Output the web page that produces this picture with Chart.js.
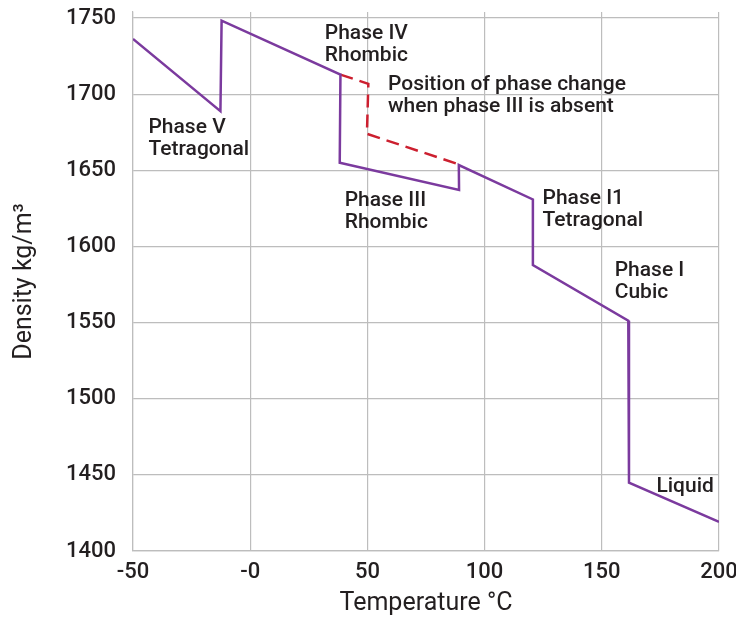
<!DOCTYPE html>
<html lang="en">
<head>
    <meta charset="UTF-8">
    <script src="https://cdn.jsdelivr.net/npm/chart.js"></script>
    <title>Density of ammonium nitrate</title>
<style>
    html, body {
        margin: 0;
        padding: 0;
        background: #ffffff;
    }
    /* le canvas occupe toute la fenêtre */
    .chart-box {
        width: 736px;
        height: 619px;
    }
</style>
</head>
<body>
<div class="chart-box">
    <canvas id="myChart"></canvas>
</div>

<script>
// courbe principale (violet)
const densityTemp = [-50, -12.7, -12.2, 38.5, 38.2, 89.1, 89.0, 120.6, 120.6, 161.3, 161.6, 200];
const densityVal  = [1736.3, 1688.9, 1748.3, 1712.9, 1655.0, 1637.1, 1653.5, 1630.9, 1587.8, 1551.3, 1444.9, 1419.1];

// changement de phase sans la phase III (rouge, pointillé)
const altTemp = [38.5, 50.4, 49.8, 89.1];
const altVal  = [1712.9, 1706.8, 1674.0, 1653.9];

// étiquettes du graphique
const labelLines = [
    ['Phase V', 'Tetragonal'],
    ['Phase IV', 'Rhombic'],
    ['Position of phase change', 'when phase III is absent'],
    ['Phase III', 'Rhombic'],
    ['Phase I1', 'Tetragonal'],
    ['Phase I', 'Cubic'],
    ['Liquid']
];
const labelTemp = [-43.4, 31.8, 58.8, 40.3, 124.7, 155.5, 173.3];
const labelDensity = [1674.7, 1736.3, 1702.6, 1626.6, 1628.2, 1580.7, 1438.8];

const xTicks = [-50, 0, 50, 100, 150, 200];
const yTicks = [1400, 1450, 1500, 1550, 1600, 1650, 1700, 1750];

const fontName = 'Roboto, "DejaVu Sans", sans-serif';
const textColor = '#231f20';
const gridColor = '#bdbdbd';

function toPoints(xs, ys) {
    return xs.map((x, i) => ({ x: x, y: ys[i] }));
}

// plugin maison pour écrire les étiquettes dans le graphique
const phaseLabels = {
    id: 'phaseLabels',
    afterDatasetsDraw(chart) {
        const ctx = chart.ctx;
        const sx = chart.scales.x;
        const sy = chart.scales.y;
        ctx.save();
        ctx.font = '500 21px ' + fontName;
        ctx.fillStyle = textColor;
        ctx.textAlign = 'left';
        ctx.textBaseline = 'alphabetic';
        labelLines.forEach((lines, i) => {
            const px = sx.getPixelForValue(labelTemp[i]);
            const py = sy.getPixelForValue(labelDensity[i]);
            lines.forEach((line, j) => {
                ctx.fillText(line, px, py + j * 22);
            });
        });
        ctx.restore();
    }
};

const ctx = document.getElementById('myChart').getContext('2d');
new Chart(ctx, {
    type: 'scatter',
    data: {
        datasets: [{
            label: 'Density',
            data: toPoints(densityTemp, densityVal),
            showLine: true,
            borderColor: '#7b3a9e',
            borderWidth: 2.5,
            pointRadius: 0,
            tension: 0
        }, {
            label: 'Phase III absent',
            data: toPoints(altTemp, altVal),
            showLine: true,
            borderColor: '#cc1f2f',
            borderWidth: 2.5,
            borderDash: [13, 7],
            pointRadius: 0,
            tension: 0
        }]
    },
    options: {
        responsive: true,
        maintainAspectRatio: false,
        animation: false,
        layout: {
            padding: { top: 12, right: 17, left: 0, bottom: 0 }
        },
        plugins: {
            legend: { display: false },
            tooltip: { enabled: false }
        },
        scales: {
            x: {
                type: 'linear',
                min: -50,
                max: 200,
                afterBuildTicks: (scale) => {
                    scale.ticks = xTicks.map(v => ({ value: v }));
                },
                afterFit: (scale) => {
                    scale.height = 68;
                    scale.paddingLeft = 0;
                    scale.paddingRight = 0;
                },
                grid: { color: gridColor, lineWidth: 1.2, drawTicks: false },
                border: { color: gridColor, width: 1.2 },
                ticks: {
                    padding: 8,
                    color: textColor,
                    font: { family: fontName, size: 22, weight: '500' },
                    callback: (v) => v === 0 ? '-0' : String(v)
                },
                title: {
                    display: true,
                    text: 'Temperature °C',
                    color: textColor,
                    font: { family: fontName, size: 25 },
                    padding: { top: 0, bottom: 0 }
                }
            },
            y: {
                type: 'linear',
                min: 1400,
                max: 1754,
                afterBuildTicks: (scale) => {
                    scale.ticks = yTicks.map(v => ({ value: v }));
                },
                afterFit: (scale) => {
                    scale.width = 133;
                    scale.paddingTop = 0;
                    scale.paddingBottom = 0;
                },
                grid: { color: gridColor, lineWidth: 1.2, drawTicks: false },
                border: { color: gridColor, width: 1.2 },
                ticks: {
                    padding: 17,
                    color: textColor,
                    font: { family: fontName, size: 22, weight: '500' },
                    callback: (v) => String(v)
                },
                title: {
                    display: true,
                    text: 'Density kg/m³',
                    color: textColor,
                    font: { family: fontName, size: 25 },
                    padding: { top: 10, bottom: 0 }
                }
            }
        }
    },
    plugins: [phaseLabels]
});
</script>
</body>
</html>
